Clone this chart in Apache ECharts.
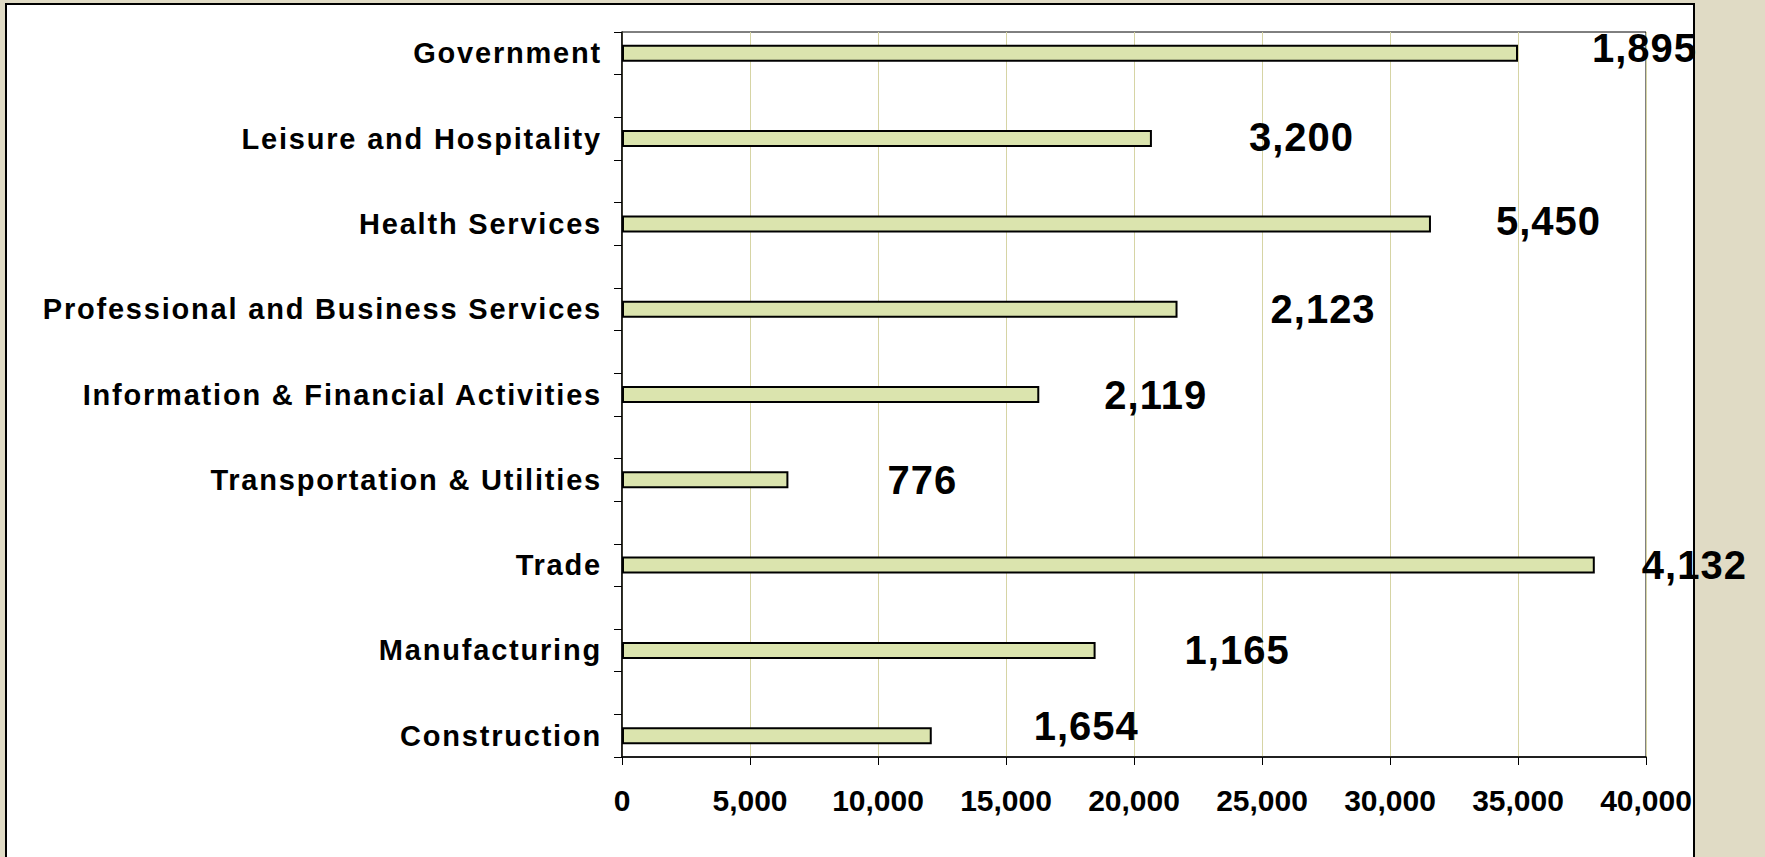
<!DOCTYPE html>
<html>
<head>
<meta charset="utf-8">
<title>Jobs by industry</title>
<script src="https://cdn.jsdelivr.net/npm/echarts@6/dist/echarts.min.js"></script>
<style>
  * { margin: 0; padding: 0; }
  html, body { width: 100%; height: 100%; overflow: hidden; background: #e0dbc5; }
  #frame {
    position: absolute; left: 5px; top: 3px; width: 1690px; height: 900px;
    box-sizing: border-box; background: #fff; border: 2px solid #000;
  }
  #main { position: absolute; left: 0; top: 0; width: 1765px; height: 857px; }
  /* the excel labels are drawn a bit spaced out */
  #main text[text-anchor="end"] { letter-spacing: 1.8px; }
  #main text[text-anchor="start"] { letter-spacing: 1px; }
</style>
</head>
<body>
<div id="frame"></div>
<div id="main"></div>
<script>
const industries = [
  'Government',
  'Leisure and Hospitality',
  'Health Services',
  'Professional and Business Services',
  'Information & Financial Activities',
  'Transportation & Utilities',
  'Trade',
  'Manufacturing',
  'Construction'
]
const jobs = [35000, 20700, 31600, 21700, 16300, 6500, 38000, 18500, 12100]
const change = [1895, 3200, 5450, 2123, 2119, 776, 4132, 1165, 1654]
const xMin = 0
const xMax = 40000
const xStep = 5000

// where each change label sits: px right of the bar end, px up from the bar middle
const labelGap = [74, 97, 65, 93, 65, 99, 47, 89, 102]
const labelLift = [5, 2, 3, 0, 0, 0, 0, 0, 10]

const font = "'Liberation Sans', Arial, sans-serif"
const fmt = v => Number(v).toLocaleString('en-US')

// excel sheet had a blank row between every industry
const rows = []
const rowData = []
industries.forEach((name, i) => {
  if (i > 0) {
    rows.push('')
    rowData.push('-')
  }
  rows.push(name)
  rowData.push({
    value: jobs[i],
    label: {
      distance: labelGap[i],
      offset: [0, -labelLift[i]],
      formatter: fmt(change[i])
    }
  })
})

const chart = echarts.init(document.getElementById('main'), null, { renderer: 'svg' })
chart.setOption({
  animation: false,
  backgroundColor: 'transparent',
  grid: {
    left: 622,
    right: 119,
    top: 32,
    bottom: 100,
    show: true,
    borderColor: '#000',
    borderWidth: 1
  },
  xAxis: {
    type: 'value',
    min: xMin,
    max: xMax,
    interval: xStep,
    axisLine: { show: true, lineStyle: { color: '#000', width: 1.5 } },
    axisTick: { show: true, length: 8, lineStyle: { color: '#000', width: 1 } },
    axisLabel: {
      margin: 28,
      color: '#000',
      fontSize: 30,
      fontWeight: 'bold',
      fontFamily: font,
      formatter: fmt
    },
    splitLine: { show: true, lineStyle: { color: '#d6d4a4', width: 1 } }
  },
  yAxis: {
    type: 'category',
    inverse: true,
    data: rows,
    axisLine: { show: true, lineStyle: { color: '#000', width: 1.5 } },
    axisTick: { show: true, interval: 0, length: 8, lineStyle: { color: '#000', width: 1 } },
    axisLabel: {
      interval: 0,
      margin: 20,
      color: '#000',
      fontSize: 29,
      fontWeight: 'bold',
      fontFamily: font
    },
    splitLine: { show: false }
  },
  series: [
    {
      type: 'bar',
      data: rowData,
      barWidth: 17,
      itemStyle: {
        color: '#dbe4ae',
        borderColor: '#000',
        borderWidth: 2
      },
      label: {
        show: true,
        position: 'right',
        color: '#000',
        fontSize: 40,
        fontWeight: 'bold',
        fontFamily: font
      }
    }
  ]
})
</script>
</body>
</html>
